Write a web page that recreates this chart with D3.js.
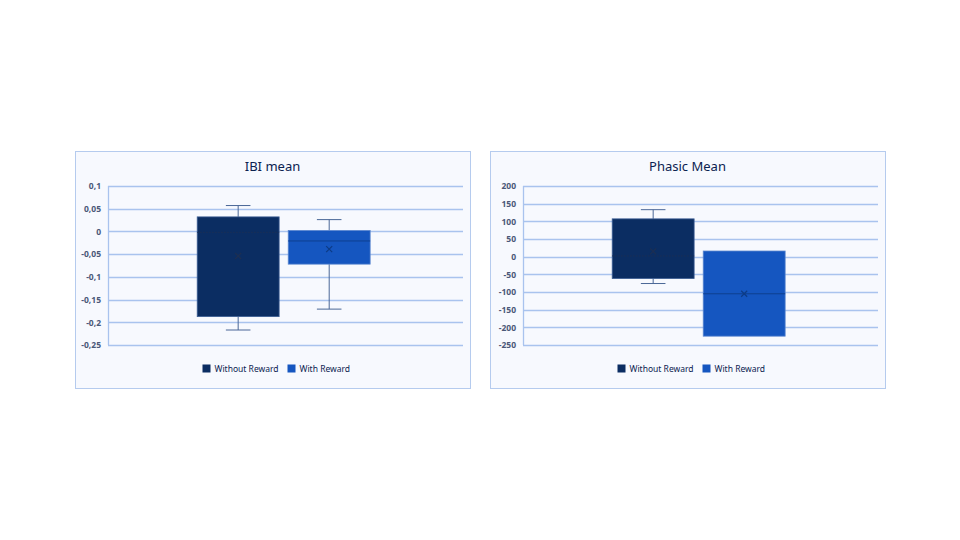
<!DOCTYPE html>
<html>
<head>
<meta charset="utf-8">
<script src="https://cdn.jsdelivr.net/npm/d3@7"></script>
<style>
  body { margin: 0; background: #fff; }
  svg { display: block; font-family: "Noto Sans", sans-serif; }
</style>
</head>
<body>
<div id="chart"></div>
<script>
const series = ["Without Reward", "With Reward"];
const colors = ["#0b2d62", "#1556c0"];

// IBI mean box stats
const ibiMin = [-0.217, -0.171];
const ibiQ1 = [-0.1875, -0.072];
const ibiMedian = [-0.002, -0.021];
const ibiQ3 = [0.032, 0.002];
const ibiMax = [0.057, 0.026];
const ibiMean = [-0.054, -0.039];
const ibiTicks = [0.1, 0.05, 0, -0.05, -0.1, -0.15, -0.2, -0.25];

// Phasic mean box stats
const phasicMin = [-76, -225];
const phasicQ1 = [-62, -225];
const phasicMedian = [2, -105];
const phasicQ3 = [107, 16];
const phasicMax = [133, 16];
const phasicMean = [15, -105];
const phasicTicks = [200, 150, 100, 50, 0, -50, -100, -150, -200, -250];

const svg = d3.select("#chart").append("svg")
  .attr("width", 960)
  .attr("height", 540);

const fmt = (d) => String(+d.toFixed(2)).replace(".", ",");

function drawPanel(opts) {
  const { left, top, title, ticks, stats } = opts;
  const W = 395, H = 237;
  const margin = { top: 35, right: 7, bottom: 43, left: 33 };
  const pw = W - margin.left - margin.right;
  const ph = H - margin.top - margin.bottom;

  const panel = svg.append("g").attr("transform", `translate(${left},${top})`);

  panel.append("rect")
    .attr("x", 0.5).attr("y", 0.5)
    .attr("width", W).attr("height", H)
    .attr("fill", "#f7f9fe")
    .attr("stroke", "#b5cbee")
    .attr("stroke-width", 1);

  panel.append("text")
    .attr("x", W / 2).attr("y", 20)
    .attr("text-anchor", "middle")
    .attr("font-size", 13)
    .attr("fill", "#0b2250")
    .text(title);

  const g = panel.append("g").attr("transform", `translate(${margin.left},${margin.top})`);

  const y = d3.scaleLinear()
    .domain(d3.extent(ticks))
    .range([ph, 0]);

  const x = d3.scaleBand()
    .domain(series)
    .range([0, pw])
    .paddingInner(0.1)
    .paddingOuter(1.0)
    .align(0.49);

  // gridlines
  g.selectAll(".grid")
    .data(ticks)
    .join("line")
    .attr("x1", 0).attr("x2", pw)
    .attr("y1", (d) => Math.round(y(d)) + 0.5)
    .attr("y2", (d) => Math.round(y(d)) + 0.5)
    .attr("stroke", "#a9c3ee")
    .attr("stroke-width", 1.3);

  g.append("line")
    .attr("x1", 0.5).attr("x2", 0.5)
    .attr("y1", 0).attr("y2", ph)
    .attr("stroke", "#a9c3ee")
    .attr("stroke-width", 1.3);

  const yAxis = g.append("g")
    .call(d3.axisLeft(y).tickValues(ticks).tickFormat(fmt).tickSize(0).tickPadding(7));
  yAxis.select(".domain").remove();
  yAxis.selectAll("text")
    .attr("font-size", 8.5)
    .attr("font-weight", "bold")
    .attr("fill", "#4a5878")
    .attr("font-family", "Noto Sans, sans-serif");

  const boxes = g.selectAll(".box")
    .data(series)
    .join("g")
    .attr("class", "box");

  boxes.each(function (s, i) {
    const b = d3.select(this);
    const bx = x(s);
    const bw = x.bandwidth();
    const cx = bx + bw / 2;
    const cap = bw * 0.15;

    // whiskers
    b.append("line")
      .attr("x1", cx).attr("x2", cx)
      .attr("y1", y(stats.max[i])).attr("y2", y(stats.q3[i]))
      .attr("stroke", "#4a6797");
    b.append("line")
      .attr("x1", cx).attr("x2", cx)
      .attr("y1", y(stats.q1[i])).attr("y2", y(stats.min[i]))
      .attr("stroke", "#4a6797");
    if (stats.max[i] > stats.q3[i]) {
      b.append("line")
        .attr("x1", cx - cap).attr("x2", cx + cap)
        .attr("y1", y(stats.max[i])).attr("y2", y(stats.max[i]))
        .attr("stroke", "#4a6797");
    }
    if (stats.min[i] < stats.q1[i]) {
      b.append("line")
        .attr("x1", cx - cap).attr("x2", cx + cap)
        .attr("y1", y(stats.min[i])).attr("y2", y(stats.min[i]))
        .attr("stroke", "#4a6797");
    }

    b.append("rect")
      .attr("x", bx).attr("width", bw)
      .attr("y", y(stats.q3[i]))
      .attr("height", y(stats.q1[i]) - y(stats.q3[i]))
      .attr("fill", colors[i])
      .attr("stroke", i === 0 ? "#3d5f95" : "#5a86cf")
      .attr("stroke-width", 0.8);

    b.append("line")
      .attr("x1", bx).attr("x2", bx + bw)
      .attr("y1", y(stats.median[i])).attr("y2", y(stats.median[i]))
      .attr("stroke", i === 0 ? "#1c2f55" : "#0e3f8f")
      .attr("stroke-width", 1)
      .attr("stroke-dasharray", i === 0 ? "1.5,1.5" : null);

    const my = y(stats.mean[i]);
    const r = 3;
    b.append("path")
      .attr("d", `M${cx - r},${my - r}L${cx + r},${my + r}M${cx - r},${my + r}L${cx + r},${my - r}`)
      .attr("stroke", i === 0 ? "#1d2f52" : "#0d3b85")
      .attr("stroke-width", 1.2);
  });

  // legend
  const legend = panel.append("g")
    .attr("transform", `translate(${W / 2 - 70},${H - 19})`);
  const offsets = [0, 85];
  series.forEach((s, i) => {
    const item = legend.append("g").attr("transform", `translate(${offsets[i]},0)`);
    item.append("rect")
      .attr("x", 0).attr("y", -4.5)
      .attr("width", 8).attr("height", 8)
      .attr("fill", colors[i]);
    item.append("text")
      .attr("x", 12).attr("y", 3)
      .attr("font-size", 8.5)
      .attr("fill", "#0b2250")
      .text(s);
  });
}

drawPanel({
  left: 75, top: 151, title: "IBI mean", ticks: ibiTicks,
  stats: { min: ibiMin, q1: ibiQ1, median: ibiMedian, q3: ibiQ3, max: ibiMax, mean: ibiMean }
});

drawPanel({
  left: 490, top: 151, title: "Phasic Mean", ticks: phasicTicks,
  stats: { min: phasicMin, q1: phasicQ1, median: phasicMedian, q3: phasicQ3, max: phasicMax, mean: phasicMean }
});
</script>
</body>
</html>
